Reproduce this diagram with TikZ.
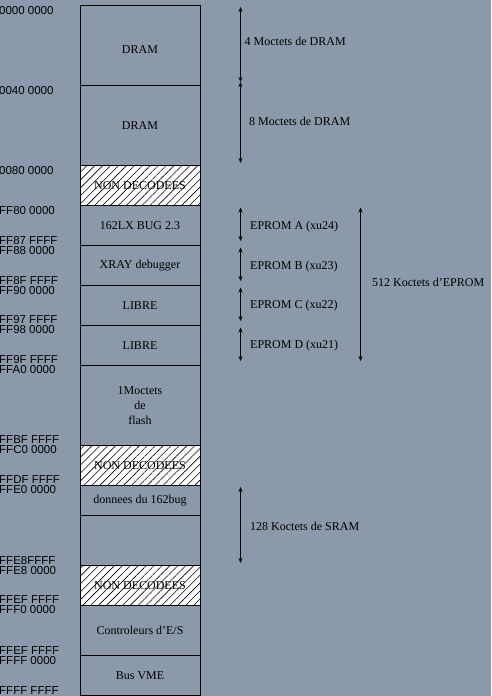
\documentclass[tikz,border=0pt]{standalone}
\usepackage{fontspec}
\setmainfont{Liberation Serif}
\newfontfamily\addrfont{Liberation Sans}
\usetikzlibrary{arrows.meta,patterns.meta}
\definecolor{bgcol}{RGB}{140,153,170}
\tikzset{
  cell/.style={draw=black,line width=1pt},
  hatched/.style={draw=black,line width=1pt,fill=white,postaction={pattern={Lines[angle=45,distance=5.6pt,line width=0.6pt]},pattern color=black}},
  celltext/.style={font=\fontsize{12}{15}\selectfont,align=center,inner sep=0pt},
  addr/.style={font=\addrfont\fontsize{11.5}{12}\selectfont,anchor=west,inner sep=0pt},
  note/.style={font=\fontsize{12}{15}\selectfont,anchor=west,inner sep=0pt},
  span/.style={line width=1pt,{Stealth[length=5pt,width=4pt]}-{Stealth[length=5pt,width=4pt]}}
}
\begin{document}
\begin{tikzpicture}[x=1pt,y=-1pt]
\fill[bgcol] (0,0) rectangle (491,696);
\useasboundingbox (0,0) rectangle (491,696);
% cells
\draw[cell] (80,5) rectangle (200,85);
\draw[cell] (80,85) rectangle (200,165);
\draw[hatched] (80,165) rectangle (200,205);
\draw[cell] (80,205) rectangle (200,245);
\draw[cell] (80,245) rectangle (200,285);
\draw[cell] (80,285) rectangle (200,325);
\draw[cell] (80,325) rectangle (200,365);
\draw[cell] (80,365) rectangle (200,445);
\draw[hatched] (80,445) rectangle (200,485);
\draw[cell] (80,485) rectangle (200,515);
\draw[cell] (80,515) rectangle (200,565);
\draw[hatched] (80,565) rectangle (200,605);
\draw[cell] (80,605) rectangle (200,655);
\draw[cell] (80,655) rectangle (200,695);
% cell texts
\node[celltext] (t1) at (140,50) {DRAM};
\node[celltext] (t2) at (140,126) {DRAM};
\node[celltext] (t3) at (140,185.5) {NON DECODEES};
\node[celltext] (t4) at (140,225.5) {162LX BUG 2.3};
\node[celltext] (t5) at (140,266) {XRAY debugger};
\node[celltext] (t6) at (140,306) {LIBRE};
\node[celltext] (t7) at (140,346) {LIBRE};
\node[celltext] (t8) at (140,406) {1Moctets\\de\\flash};
\node[celltext] (t9) at (140,465.5) {NON DECODEES};
\node[celltext] (t10) at (140,501) {donnees du 162bug};
\node[celltext] (t11) at (140,585.5) {NON DECODEES};
\node[celltext] (t12) at (140,630) {Controleurs d’E/S};
\node[celltext] (t13) at (140,675.5) {Bus VME};
% addresses
\node[addr] (a1) at (-1,11) {0000 0000};
\node[addr] (a2) at (-1,91) {0040 0000};
\node[addr] (a3) at (-1,171) {0080 0000};
\node[addr] (a4) at (-1,211) {FF80 0000};
\node[addr] (a5) at (-1,241) {FF87 FFFF};
\node[addr] (a6) at (-1,251) {FF88 0000};
\node[addr] (a7) at (-1,280.5) {FF8F FFFF};
\node[addr] (a8) at (-1,290.5) {FF90 0000};
\node[addr] (a9) at (-1,320) {FF97 FFFF};
\node[addr] (a10) at (-1,330) {FF98 0000};
\node[addr] (a11) at (-1,360) {FF9F FFFF};
\node[addr] (a12) at (-1,370) {FFA0 0000};
\node[addr] (a13) at (-1,440) {FFBF FFFF};
\node[addr] (a14) at (-1,450) {FFC0 0000};
\node[addr] (a15) at (-1,480) {FFDF FFFF};
\node[addr] (a16) at (-1,490) {FFE0 0000};
\node[addr] (a17) at (-1,561) {FFE8FFFF};
\node[addr] (a18) at (-1,571) {FFE8 0000};
\node[addr] (a19) at (-1,600) {FFEF FFFF};
\node[addr] (a20) at (-1,610) {FFF0 0000};
\node[addr] (a21) at (-1,650.5) {FFEF FFFF};
\node[addr] (a22) at (-1,660.5) {FFFF 0000};
\node[addr] (a23) at (-1,691) {FFFF FFFF};
% span coordinates
\coordinate (d0) at (240.5,7);
\coordinate (d1) at (240.5,82);
\coordinate (d2) at (240.5,163);
\coordinate (e0) at (240.5,207.5);
\coordinate (e1) at (240.5,241);
\coordinate (e2) at (240.5,247.5);
\coordinate (e3) at (240.5,281);
\coordinate (e4) at (240.5,287.5);
\coordinate (e5) at (240.5,321);
\coordinate (e6) at (240.5,327.5);
\coordinate (e7) at (240.5,361);
\coordinate (E0) at (360.5,207.5);
\coordinate (E1) at (360.5,361);
\coordinate (s0) at (240.5,487);
\coordinate (s1) at (240.5,563);
\draw[span] (d0) -- (d1);
\draw[span] (d1) -- (d2);
\draw[span] (e0) -- (e1);
\draw[span] (e2) -- (e3);
\draw[span] (e4) -- (e5);
\draw[span] (e6) -- (e7);
\draw[span] (E0) -- (E1);
\draw[span] (s0) -- (s1);
% notes
\node[note] (n1) at (244.5,41.5) {4 Moctets de DRAM};
\node[note] (n2) at (249,121) {8 Moctets de DRAM};
\node[note] (n3) at (250,227) {EPROM A (xu24)};
\node[note] (n4) at (250,266.5) {EPROM B (xu23)};
\node[note] (n5) at (250,306) {EPROM C (xu22)};
\node[note] (n6) at (250,346) {EPROM D (xu21)};
\node[note] (n7) at (372,282) {512 Koctets d’EPROM};
\node[note] (n8) at (250,526) {128 Koctets de SRAM};
\end{tikzpicture}
\end{document}
